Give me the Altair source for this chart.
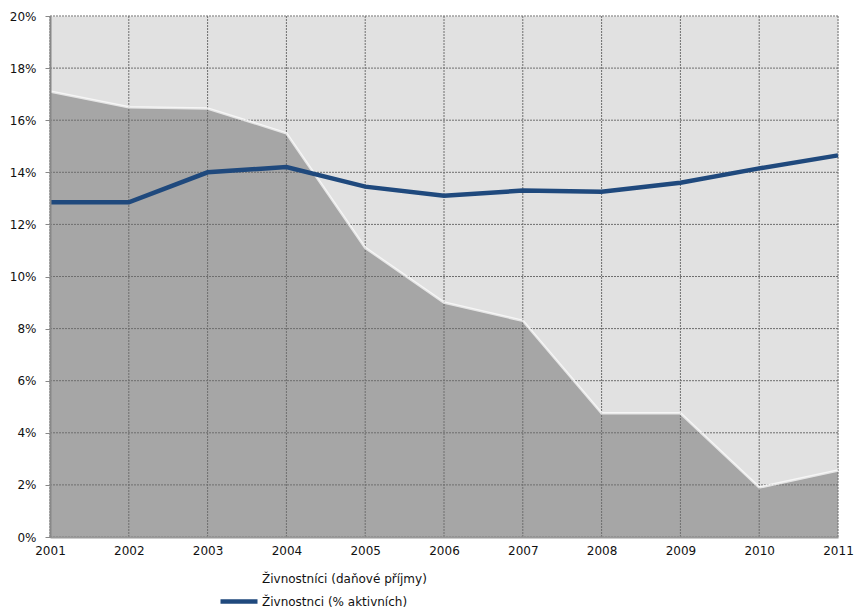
import altair as alt
import pandas as pd

years = list(range(2001, 2012))
tax_share = [17.1, 16.5, 16.45, 15.5, 11.1, 9.0, 8.3, 4.75, 4.75, 1.9, 2.55]
active_share = [12.85, 12.85, 14.0, 14.2, 13.45, 13.1, 13.3, 13.25, 13.6, 14.15, 14.65]
y_ticks = [0, 2, 4, 6, 8, 10, 12, 14, 16, 18, 20]
series_names = ["Živnostníci (daňové příjmy)", "Živnostnci (% aktivních)"]

df = pd.DataFrame({"year": years, "tax": tax_share, "active": active_share,
                   "series": series_names[1]})
grid_x = pd.DataFrame({"year": years})
grid_y = pd.DataFrame({"v": y_ticks})

font = "DejaVu Sans"
xscale = alt.Scale(domain=[2001, 2011], nice=False, zero=False)
yscale = alt.Scale(domain=[0, 20], nice=False)

x_axis = alt.Axis(values=years, format="d", grid=False, ticks=False, domainColor="#999999",
                  domainWidth=2, labelFont=font, labelFontSize=12, labelColor="#111111",
                  labelPadding=8, title=None, labelFlush=False, zindex=1)
y_axis = alt.Axis(values=y_ticks, labelExpr="datum.value + '%'", grid=False, tickSize=5,
                  tickColor="#888888", domainColor="#888888", domainWidth=2,
                  labelFont=font, labelFontSize=12, labelColor="#111111",
                  labelPadding=9, title=None, zindex=1)

area = alt.Chart(df).mark_area(color="#a6a6a6", opacity=1).encode(
    x=alt.X("year:Q", scale=xscale, axis=x_axis),
    y=alt.Y("tax:Q", scale=yscale, axis=y_axis),
)
area_edge = alt.Chart(df).mark_line(color="#ffffff", opacity=0.7, strokeWidth=2.5).encode(
    x=alt.X("year:Q", scale=xscale),
    y=alt.Y("tax:Q", scale=yscale),
)
vgrid = alt.Chart(grid_x).mark_rule(color="#6e6e6e", strokeWidth=1, strokeDash=[2, 1]).encode(
    x=alt.X("year:Q", scale=xscale)
)
hgrid = alt.Chart(grid_y).mark_rule(color="#6e6e6e", strokeWidth=1, strokeDash=[2, 1]).encode(
    y=alt.Y("v:Q", scale=yscale)
)
line = alt.Chart(df).mark_line(strokeWidth=4.5).encode(
    x=alt.X("year:Q", scale=xscale),
    y=alt.Y("active:Q", scale=yscale),
    color=alt.Color("series:N",
                    scale=alt.Scale(domain=series_names, range=["transparent", "#1f497d"]),
                    legend=alt.Legend(title=None, orient="none", legendX=181.5, legendY=555,
                                      symbolType="M-3.7,0H3.7", symbolSize=100,
                                      symbolStrokeWidth=4.5, labelFont=font,
                                      labelFontSize=12, labelColor="#111111",
                                      labelLimit=0, labelOffset=15.5, rowPadding=4)),
)

chart = alt.layer(area, vgrid, hgrid, area_edge, line).properties(
    width=788, height=521,
    autosize=alt.AutoSizeParams(type="none"),
    padding={"left": 42, "top": 8, "right": 16, "bottom": 80},
    view=alt.ViewBackground(fill="#e1e1e1", stroke="transparent"),
).configure(background="white")

chart.save("out.html", embed_options={"renderer": "svg", "actions": False})
